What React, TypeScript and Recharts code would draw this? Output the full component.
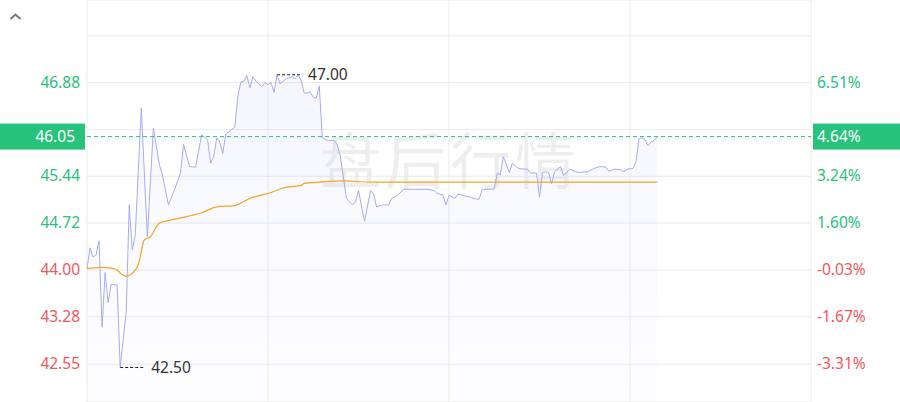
import { ComposedChart, Area, Line, XAxis, YAxis, CartesianGrid, ReferenceLine } from 'recharts';

// intraday minute index (0..240) and price
const priceMinutes = [
  0, 1, 2, 3, 4, 5, 6, 7, 8, 9, 10, 11, 13, 14, 15, 16, 18, 20, 22, 24, 25, 27, 29, 31, 32, 34, 36, 38, 40,
  41, 42, 43, 44, 45, 46, 48, 49, 50, 51, 52, 53, 54, 55, 56, 58, 59, 60, 61, 62, 63, 64, 66, 68, 69, 70,
  71, 72, 73, 74, 75, 76, 77, 78, 80, 82, 83, 84, 86, 88, 89, 90, 92, 94, 95, 96, 98, 100, 101, 103, 105,
  110, 113, 115, 116, 118, 119, 120, 122, 123, 125, 127, 129, 130, 131, 134, 135, 136, 137, 138, 140, 141,
  143, 145, 146, 147, 149, 150, 151, 152, 153, 154, 155, 157, 158, 160, 162, 163, 166, 168, 170, 172, 173,
  175, 177, 178, 179, 181, 182, 183, 184, 185, 186, 187, 188, 189,
];
const prices = [
  44.02, 44.34, 44.2, 44.23, 44.45, 43.12, 43.96, 43.5, 43.78, 43.77, 43.77, 42.5, 43.36, 45.0, 44.31, 44.54,
  46.49, 44.51, 46.18, 45.62, 45.46, 45.0, 45.23, 45.49, 45.93, 45.59, 45.58, 46.08, 46.0,
  45.64, 45.74, 46.03, 45.97, 45.79, 46.09, 46.16, 46.2, 46.67, 46.89, 46.9, 46.99, 46.8, 46.97, 46.9, 46.82,
  46.88, 46.85, 46.88, 46.73, 47.0, 46.86, 46.94, 46.97, 46.94, 46.99,
  46.92, 46.72, 46.72, 46.74, 46.65, 46.64, 46.83, 46.03, 45.99, 45.99, 45.92, 45.74, 45.1, 45.0, 45.05,
  45.22, 44.75, 45.22, 45.17, 44.97, 45.0, 45.0, 45.1, 45.15, 45.24,
  45.24, 45.24, 45.22, 45.18, 45.15, 45.0, 45.15, 45.1, 45.17, 45.14, 45.12, 45.09, 45.09, 45.24, 45.24,
  45.25, 45.49, 45.46, 45.74, 45.5, 45.64,
  45.56, 45.55, 45.55, 45.49, 45.49, 45.12, 45.5, 45.51, 45.5, 45.33, 45.51, 45.59, 45.45, 45.55, 45.51,
  45.5, 45.51, 45.56, 45.59, 45.58, 45.52,
  45.55, 45.54, 45.51, 45.55, 45.56, 45.67, 46.02, 46.03, 46.0, 45.91, 45.97, 45.99, 46.05,
];

const avgMinutes = [0, 5, 9, 13, 16, 17, 19, 21, 24, 28, 33, 38, 43, 49, 54, 61, 65, 71, 72, 77, 85, 94, 120, 189];
const avgPrices = [
  44.02, 44.04, 44.02, 43.9, 44.0, 44.08, 44.46, 44.51, 44.72, 44.77, 44.82, 44.88, 44.97, 44.99, 45.1,
  45.19, 45.26, 45.3, 45.33, 45.35, 45.37, 45.35, 45.35, 45.35,
];

const xTicks = [0, 60, 120, 180, 240];
const yTicks = [42.55, 43.28, 44.0, 44.72, 45.44, 46.16, 46.88, 47.6];
const leftTickLabels = ['42.55', '43.28', '44.00', '44.72', '45.44', '', '46.88', ''];
const rightTickLabels = ['-3.31%', '-1.67%', '-0.03%', '1.60%', '3.24%', '', '6.51%', ''];

const prevClose = 44.013;
const lastPrice = 46.05;
const lastPriceLabel = '46.05';
const lastPctLabel = '4.64%';

const GREEN = '#27c27b';
const RED = '#f2575a';
const FONT = '"Noto Sans", Arial, sans-serif';

const priceData = priceMinutes.map((t, i) => ({ t, p: prices[i] }));
const avgData = avgMinutes.map((t, i) => ({ t, a: avgPrices[i] }));

const maxIdx = prices.indexOf(Math.max(...prices));
const minIdx = prices.indexOf(Math.min(...prices));

const LeftTick = (props: any) => {
  const { x, y, payload } = props;
  const label = leftTickLabels[yTicks.indexOf(payload.value)];
  if (!label) return null;
  return (
    <text x={x + 1} y={y} dy={5} textAnchor="end" fontSize={15.5} fontFamily={FONT}
      fill={payload.value < prevClose ? RED : GREEN}>{label}</text>
  );
};

const RightTick = (props: any) => {
  const { x, y, payload } = props;
  const label = rightTickLabels[yTicks.indexOf(payload.value)];
  if (!label) return null;
  return (
    <text x={x} y={y} dy={5} textAnchor="start" fontSize={15.5} fontFamily={FONT}
      fill={payload.value < prevClose ? RED : GREEN}>{label}</text>
  );
};

// dashed pointer + value for the day's high and low
const Extreme = (props: any) => {
  const { cx, cy, index } = props;
  if (index !== maxIdx && index !== minIdx) return <g key={'d' + index} />;
  return (
    <g key={'d' + index}>
      <line x1={cx} y1={cy} x2={cx + 25} y2={cy} stroke="#222" strokeDasharray="3 2" />
      <text x={cx + 31} y={cy} dy={5} fontSize={15.5} fontFamily={FONT} fill="#333">
        {prices[index].toFixed(2)}
      </text>
    </g>
  );
};

const LastBadges = (props: any) => {
  const { x, y, width } = props.viewBox;
  return (
    <g>
      <rect x={0} y={y - 13} width={x - 2} height={26} fill={GREEN} />
      <text x={x - 12} y={y} dy={5} textAnchor="end" fontSize={15.5} fontFamily={FONT} fill="#fff">{lastPriceLabel}</text>
      <rect x={x + width + 2} y={y - 13} width={90} height={26} fill={GREEN} />
      <text x={x + width + 6} y={y} dy={5} fontSize={15.5} fontFamily={FONT} fill="#fff">{lastPctLabel}</text>
    </g>
  );
};

export default function App() {
  return (
    <div style={{ position: 'absolute', left: 0, top: 0, width: 900, height: 402, background: '#fff', overflow: 'hidden' }}>
      <div style={{
        position: 'absolute', left: 0, top: 128, width: 900, textAlign: 'center', fontSize: 61,
        fontFamily: '"Noto Sans CJK SC", sans-serif', color: 'rgba(0,0,0,0.065)', lineHeight: '60px', letterSpacing: 4,
      }}>盘后行情</div>
      <svg width={24} height={24} style={{ position: 'absolute', left: 3, top: 5 }}>
        <polyline points="7.5,14 12.5,9.5 17.5,14" fill="none" stroke="#7a7a7a" strokeWidth={2} />
      </svg>
      <ComposedChart width={900} height={402} margin={{ top: 0, right: 0, bottom: 0, left: 0 }}
        style={{ position: 'absolute', left: 0, top: 0 }}>
        <defs>
          <linearGradient id="priceFill" x1="0" y1="0" x2="0" y2="1">
            <stop offset="0%" stopColor="#a5adf2" stopOpacity={0.17} />
            <stop offset="100%" stopColor="#a5adf2" stopOpacity={0.03} />
          </linearGradient>
        </defs>
        <CartesianGrid yAxisId="left" stroke="#ebebeb" />
        <XAxis dataKey="t" type="number" domain={[0, 240]} ticks={xTicks} hide />
        <YAxis yAxisId="left" type="number" domain={[41.97, 48.15]} ticks={yTicks} width={87}
          axisLine={false} tickLine={false} tickSize={6} tickMargin={2} tick={<LeftTick />} allowDataOverflow />
        <YAxis yAxisId="right" orientation="right" type="number" domain={[41.97, 48.15]} ticks={yTicks} width={89}
          axisLine={false} tickLine={false} tickSize={6} tickMargin={0} tick={<RightTick />} allowDataOverflow />
        <Area yAxisId="left" data={priceData} dataKey="p" type="linear" stroke="#a5adf2" strokeWidth={1}
          fill="url(#priceFill)" dot={Extreme} activeDot={false} isAnimationActive={false} />
        <Line yAxisId="left" data={avgData} dataKey="a" type="monotone" stroke="#f5a524" strokeWidth={1.2}
          dot={false} activeDot={false} isAnimationActive={false} />
        <ReferenceLine yAxisId="left" y={lastPrice} stroke={GREEN} strokeDasharray="4 3"
          label={(p: any) => <LastBadges viewBox={p.viewBox} />} />
      </ComposedChart>
    </div>
  );
}
